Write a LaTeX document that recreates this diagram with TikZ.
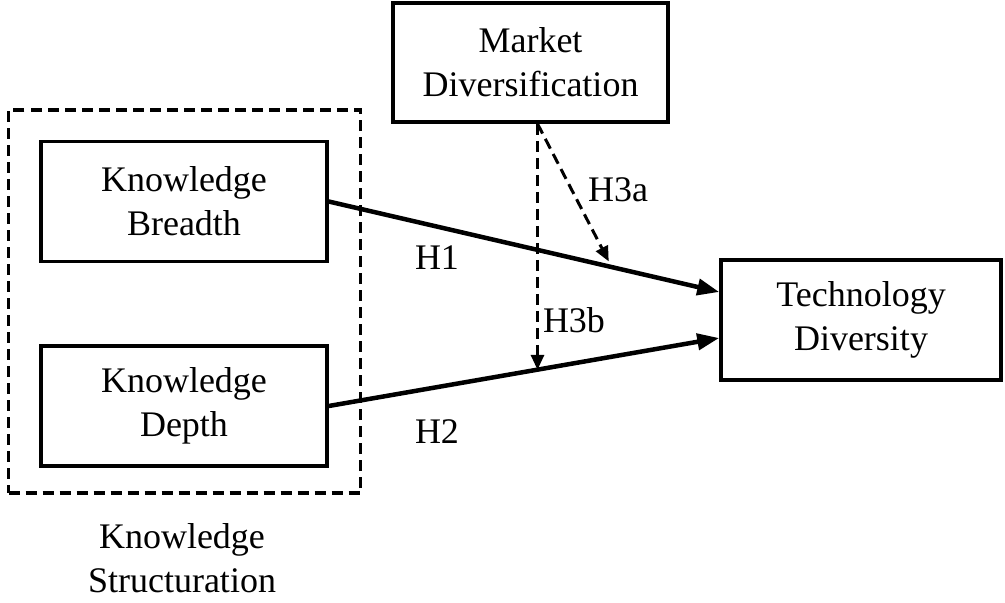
\documentclass[tikz,border=0pt]{standalone}
\usepackage{fontspec}
\setmainfont{Liberation Serif}
\usetikzlibrary{arrows.meta,calc}
\begin{document}
\begin{tikzpicture}[x=1pt,y=-1pt,
  box/.style={draw,line width=3.5pt,minimum width=286pt,minimum height=120pt,align=center,inner sep=0pt,font=\fontsize{36}{44}\selectfont},
  lbl/.style={font=\fontsize{36}{40}\selectfont,inner sep=0pt,align=center},
  main/.style={line width=4.5pt,-{Triangle[length=22pt,width=16pt]}},
  mod/.style={line width=3pt,dash pattern=on 11pt off 6pt,-{Triangle[length=15pt,width=13pt]}}]
\useasboundingbox (0,0) rectangle (1005,603);
\node[box,minimum width=275pt,minimum height=119pt] (mkt) at (530.5,62.5) {Market\\Diversification};
\node[box] (bre) at (184,201.5) {Knowledge\\Breadth};
\node[box] (dep) at (184,406) {Knowledge\\Depth};
\node[box,minimum width=280pt] (tech) at (861,320) {Technology\\Diversity};
\node[draw,line width=3.5pt,dash pattern=on 11pt off 6pt,minimum width=352pt,minimum height=383pt,inner sep=0pt] (ks) at (184.5,301.5) {};
\node[lbl,font=\fontsize{36}{44}\selectfont] (kslbl) at (182,558) {Knowledge\\Structuration};
\coordinate (t1) at ([yshift=28pt]tech.west);
\coordinate (t2) at ([yshift=-18pt]tech.west);
\draw[main] (bre.east) -- (t1);
\draw[main] (dep.east) -- (t2);
\coordinate (ms) at ([xshift=7pt]mkt.south);
\coordinate (h3b) at ($(dep.east)!0.532!(t2)$);
\coordinate (h3a) at ([yshift=5pt]$(bre.east)!0.717!(t1)$);
\draw[mod] (ms) -- (ms |- h3b);
\draw[mod] (ms) -- (h3a);
\node[lbl] (l1) at (437,258) {H1};
\node[lbl] (l2) at (437,432) {H2};
\node[lbl] (l3a) at (618,190) {H3a};
\node[lbl] (l3b) at (574,320) {H3b};
\end{tikzpicture}
\end{document}
